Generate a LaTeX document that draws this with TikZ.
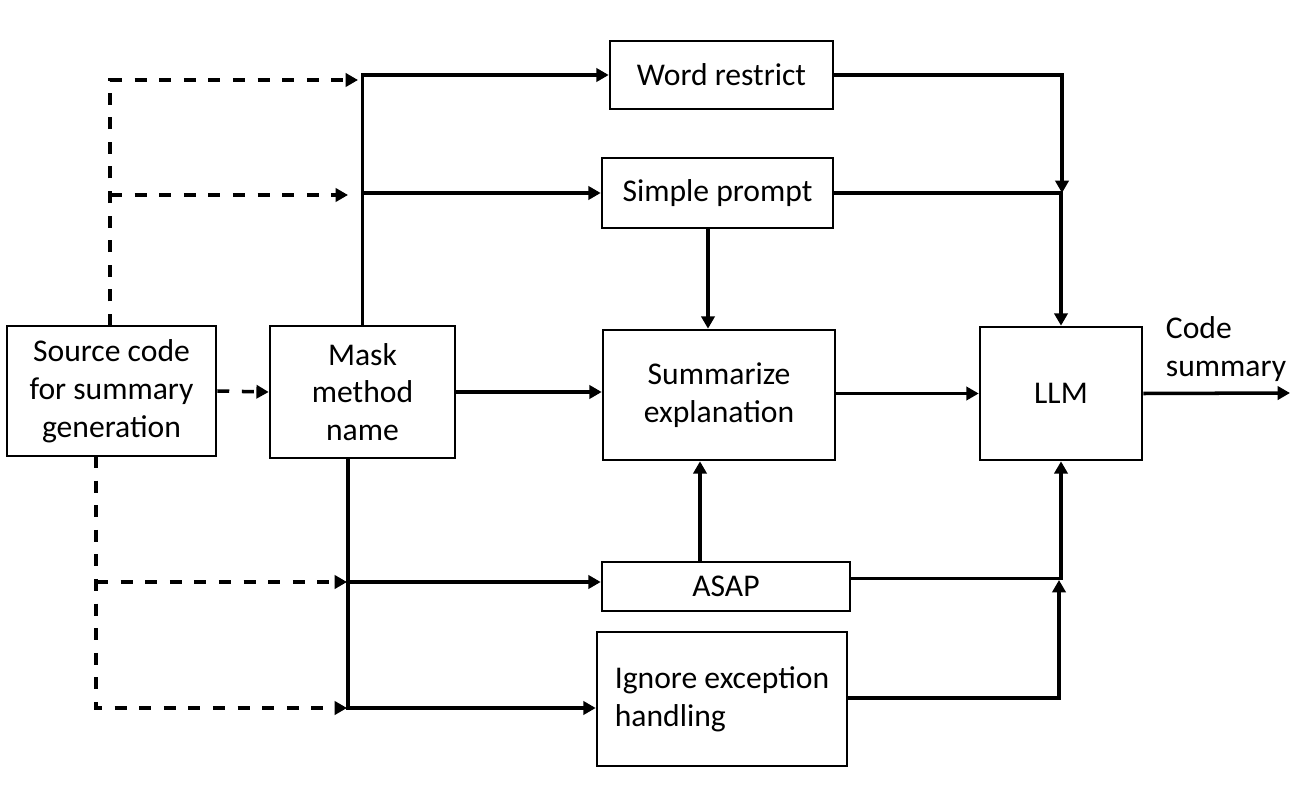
\documentclass[tikz,border=0pt]{standalone}
\usepackage{fontspec}
\setmainfont{Carlito}
\usepackage{tikz}
\usetikzlibrary{arrows.meta,positioning,calc}

\begin{document}
\begin{tikzpicture}[x=0.02cm, y=-0.02cm,
	box/.style={rectangle, draw, line width=1.5pt, align=center, inner sep=0pt,
		font=\fontsize{18}{21.5}\selectfont},
	flow/.style={line width=2pt, -{Triangle[length=7pt,width=7.5pt]}},
	link/.style={line width=2pt},
	dashflow/.style={flow, dash pattern=on 6.8pt off 7.2pt},
	dashlink/.style={link, dash pattern=on 6.8pt off 7.2pt}]
		\useasboundingbox (0,0) rectangle (1304,790);

		% boxes
		\node[box, minimum width=4.18cm, minimum height=2.6cm] (src) at (111.5, 391) {Source code\\for summary\\generation};
		\node[box, minimum width=3.7cm, minimum height=2.64cm] (mask) at (362.5, 392) {Mask\\method\\name};
		\node[box, minimum width=4.46cm, minimum height=1.36cm] (word) at (721.5, 75) {Word restrict};
		\node[box, minimum width=4.62cm, minimum height=1.4cm] (simple) at (717.5, 193) {Simple prompt};
		\node[box, minimum width=4.64cm, minimum height=2.6cm] (summ) at (719, 395) {Summarize\\explanation};
		\node[box, minimum width=3.24cm, minimum height=2.66cm] (llm) at (1061, 393.5) {LLM};
		\node[box, minimum width=4.96cm, minimum height=0.98cm] (asap) at (726, 586.5) {ASAP};
		\node[box, minimum width=5cm, minimum height=2.68cm, align=left] (ignore) at (722, 699) {Ignore exception\\handling};
		\node[align=left, font=\fontsize{18}{21.5}\selectfont] (out) at (1226, 349) {Code\\summary};

		% free ends and bends
		\coordinate (st) at (110, 326);
		\coordinate (sb) at (96, 456);
		\coordinate (d1) at (358, 80);
		\coordinate (d2) at (348, 195);
		\coordinate (d3) at (347, 582);
		\coordinate (d4) at (347, 708);
		\coordinate (mb) at (348, 458);
		\coordinate (j1) at (1062, 193);
		\coordinate (j2) at (1059, 580);
		\coordinate (end) at (1290, 393);

		% dashed from source code
		\draw[dashflow] (st) |- (d1);
		\draw[dashflow] (st |- d2) -- (d2);
		\draw[dashflow] (src.east) -- (mask.west);
		\draw[dashflow] (sb) |- (d4);
		\draw[dashflow] (sb |- d3) -- (d3);

		% from mask method name
		\draw[flow] (mask.north) |- (word.west);
		\draw[flow] (mask.north |- simple.west) -- (simple.west);
		\draw[flow] (mask.east) -- (summ.west |- mask.east);
		\draw[flow] (mb) |- ([yshift=-0.18cm]ignore.west);
		\draw[flow] (mb |- d3) -- (asap.west |- d3);

		% into summarize and llm
		\draw[flow] ([xshift=-0.19cm]simple.south) -- ([xshift=-0.19cm]simple.south |- summ.north);
		\draw[flow] (asap.north -| 700, 0) -- (summ.south -| 700, 0);
		\draw[flow] (word.east) -| (j1);
		\draw[flow] (simple.east) -| (llm.north);
		\draw[flow] (summ.east |- llm.west) -- (llm.west);
		\draw[flow] ([yshift=0.16cm]asap.east) -| (llm.south);
		\draw[flow] ([yshift=0.02cm]ignore.east) -| (j2);
		\draw[flow] (llm.east) -- (end);
	\end{tikzpicture}
\end{document}
